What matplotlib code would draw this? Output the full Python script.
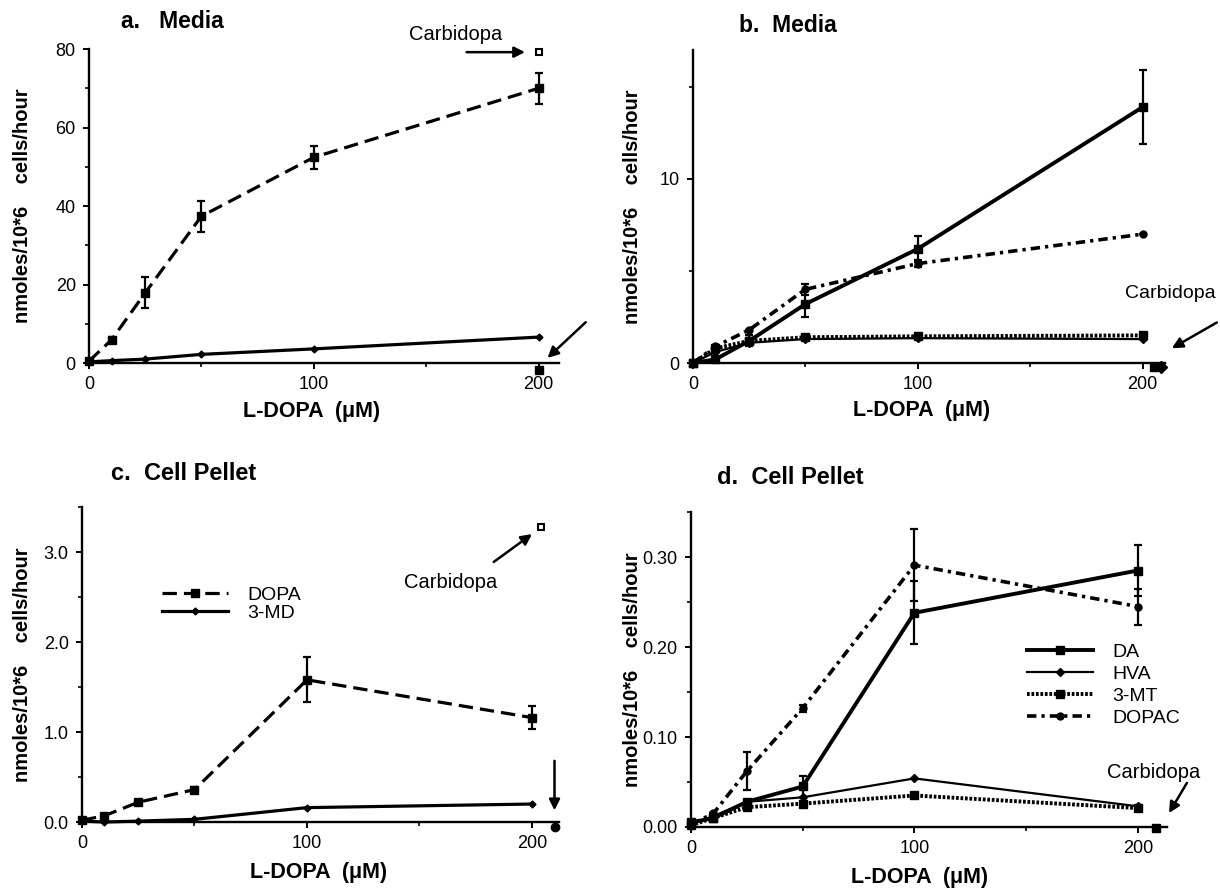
import matplotlib
matplotlib.use('Agg')
import matplotlib.pyplot as plt
from matplotlib.lines import Line2D

plt.rcParams['font.family'] = ['Liberation Sans', 'DejaVu Sans']

# ---------------- data ----------------
ldopa = [0, 10, 25, 50, 100, 200]

# panel a (media)
a_dopa = [0.5, 5.9, 17.9, 37.4, 52.4, 70.0]
a_dopa_err = [0, 0.8, 4.0, 4.0, 3.0, 3.9]
a_3md = [0.3, 0.6, 1.0, 2.2, 3.6, 6.6]
a_carb_dopa = 79.2
a_carb_3md = -1.8

# panel b (media)
b_da = [0, 0.2, 1.2, 3.2, 6.2, 13.9]
b_da_err = [0, 0, 0.3, 0.7, 0.7, 2.0]
b_hva = [0, 0.6, 1.1, 1.3, 1.35, 1.3]
b_3mt = [0, 0.8, 1.2, 1.4, 1.45, 1.5]
b_dopac = [0, 0.9, 1.8, 4.0, 5.4, 7.0]
b_dopac_err = [0, 0, 0, 0.3, 0.2, 0]
b_carb = -0.2

# panel c (cell pellet)
c_dopa = [0.02, 0.07, 0.22, 0.36, 1.58, 1.16]
c_dopa_err = [0, 0, 0.03, 0.03, 0.25, 0.13]
c_3md = [0.01, 0.0, 0.01, 0.03, 0.16, 0.20]
c_carb_dopa = 3.28
c_carb_3md = -0.055

# panel d (cell pellet)
d_da = [0.005, 0.01, 0.028, 0.045, 0.238, 0.285]
d_da_err = [0, 0, 0, 0.012, 0.035, 0.028]
d_hva = [0.003, 0.012, 0.028, 0.033, 0.054, 0.023]
d_3mt = [0.002, 0.010, 0.022, 0.026, 0.035, 0.021]
d_dopac = [0.003, 0.015, 0.062, 0.132, 0.291, 0.245]
d_dopac_err = [0, 0, 0.021, 0.004, 0.04, 0.02]
d_carb = -0.001

x_major = [0, 100, 200]
x_minor = [50, 150]

# ---------------- styles ----------------
S_DOPA = dict(ls=(0, (4.5, 2.2)), lw=2.3, marker='s', ms=5.5)
S_3MD = dict(ls='-', lw=2.3, marker='D', ms=3.5)
S_DA = dict(ls='-', lw=2.8, marker='s', ms=6)
S_HVA = dict(ls='-', lw=1.6, marker='D', ms=4)
S_3MT = dict(ls=(0, (0.7, 0.45)), lw=2.8, marker='s', ms=6)
S_DOPAC = dict(ls=(0, (2.6, 1.4, 0.9, 1.4)), lw=2.6, marker='o', ms=5)

ARROW = dict(arrowstyle='-|>', lw=1.8, color='black', mutation_scale=16,
             shrinkA=0, shrinkB=0)

fig = plt.figure(figsize=(12.2, 8.88), dpi=100)


def make_axes(rect, xlim, ylim, ymaj, ymin, ylabels):
    ax = fig.add_axes(rect)
    ax.set_xlim(*xlim)
    ax.set_ylim(*ylim)
    for s in ['top', 'right']:
        ax.spines[s].set_visible(False)
    for s in ['left', 'bottom']:
        ax.spines[s].set_linewidth(1.7)
    ax.set_xticks(x_major)
    ax.set_xticklabels([str(v) for v in x_major])
    ax.set_xticks(x_minor, minor=True)
    ax.set_yticks(ymaj)
    ax.set_yticklabels(ylabels)
    ax.set_yticks(ymin, minor=True)
    ax.tick_params(which='major', length=4.5, width=1.4, direction='out',
                   labelsize=13, pad=5)
    ax.tick_params(which='minor', length=3, width=1.2, direction='out')
    ax.set_xlabel('L-DOPA  (\u03bcM)', fontsize=15.5, fontweight='bold')
    ax.set_ylabel('nmoles/10*6    cells/hour', fontsize=14.5, fontweight='bold')
    ax.xaxis.label.set_va('center')
    ax.yaxis.label.set_va('center')
    return ax


def series(ax, y, style, err=None):
    cont = ax.errorbar(ldopa, y, yerr=err, color='black', capsize=3,
                       elinewidth=1.6, capthick=1.6, zorder=3, **style)
    for art in cont.get_children():
        art.set_clip_on(False)
    return cont


def arrow(ax, tail, head):
    ax.annotate('', xy=head, xytext=tail, annotation_clip=False, arrowprops=ARROW)


# ---------------- panel a ----------------
axa = make_axes([0.073, 0.5912, 0.385, 0.3536], (0, 209), (0, 80),
                [0, 20, 40, 60, 80], [10, 30, 50, 70],
                ['0', '20', '40', '60', '80'])
series(axa, a_dopa, S_DOPA, a_dopa_err)
series(axa, a_3md, S_3MD)
axa.plot([200], [a_carb_dopa], marker='s', ms=5, mfc='white', mec='black',
         mew=1.5, ls='none', clip_on=False)
axa.plot([200], [a_carb_3md], marker='s', ms=6, color='black', ls='none',
         clip_on=False)
axa.text(163, 83.6, 'Carbidopa', fontsize=14.5, ha='center', va='center')
arrow(axa, (168, 79.2), (194, 79.2))
arrow(axa, (221, 10.4), (204, 1.3))
axa.xaxis.set_label_coords(0.474, -0.153)
axa.yaxis.set_label_coords(-0.142, 0.5)

# ---------------- panel b ----------------
axb = make_axes([0.568, 0.5912, 0.387, 0.3525], (0, 210), (0, 17),
                [0, 10], [5, 15], ['0', '10'])
series(axb, b_hva, S_HVA)
series(axb, b_3mt, S_3MT)
series(axb, b_dopac, S_DOPAC, b_dopac_err)
series(axb, b_da, S_DA, b_da_err)
axb.plot([205], [b_carb], marker='s', ms=6, color='black', ls='none', clip_on=False)
axb.plot([208], [b_carb], marker='D', ms=6, color='black', ls='none', clip_on=False)
axb.text(212.5, 3.8, 'Carbidopa', fontsize=14, ha='center', va='center', clip_on=False)
arrow(axb, (233, 2.2), (213, 0.8))
axb.xaxis.set_label_coords(0.485, -0.153)
axb.yaxis.set_label_coords(-0.127, 0.5)

# ---------------- panel c ----------------
axc = make_axes([0.0672, 0.0743, 0.391, 0.3547], (0, 212), (0, 3.5),
                [0, 1, 2, 3], [0.5, 1.5, 2.5, 3.5],
                ['0.0', '1.0', '2.0', '3.0'])
series(axc, c_dopa, S_DOPA, c_dopa_err)
series(axc, c_3md, S_3MD)
axc.plot([204], [c_carb_dopa], marker='s', ms=5, mfc='white', mec='black',
         mew=1.5, ls='none', clip_on=False)
axc.plot([210], [c_carb_3md], marker='o', ms=6, color='black', ls='none',
         clip_on=False)
axc.text(164, 2.66, 'Carbidopa', fontsize=14.5, ha='center', va='center')
arrow(axc, (183, 2.89), (200, 3.2))
arrow(axc, (210, 0.68), (210, 0.13))
hc = [Line2D([], [], color='black', **S_DOPA), Line2D([], [], color='black', **S_3MD)]
axc.legend(hc, ['DOPA', '3-MD'], loc='upper left', bbox_to_anchor=(0.168, 0.748),
           frameon=False, fontsize=14, handlelength=3.4, handletextpad=1.0,
           labelspacing=0.02, borderpad=0, borderaxespad=0, numpoints=1)
axc.xaxis.set_label_coords(0.495, -0.159)
axc.yaxis.set_label_coords(-0.124, 0.5)

# ---------------- panel d ----------------
axd = make_axes([0.5664, 0.0687, 0.390, 0.3547], (0, 213), (0, 0.35),
                [0, 0.1, 0.2, 0.3], [0.05, 0.15, 0.25, 0.35],
                ['0.00', '0.10', '0.20', '0.30'])
series(axd, d_3mt, S_3MT)
series(axd, d_hva, S_HVA)
series(axd, d_dopac, S_DOPAC, d_dopac_err)
series(axd, d_da, S_DA, d_da_err)
axd.plot([208], [d_carb], marker='s', ms=6, color='black', ls='none', clip_on=False)
axd.text(207, 0.060, 'Carbidopa', fontsize=14.5, ha='center', va='center')
arrow(axd, (222, 0.049), (214, 0.0155))
hd = [Line2D([], [], color='black', **S_DA), Line2D([], [], color='black', **S_HVA),
      Line2D([], [], color='black', **S_3MT), Line2D([], [], color='black', **S_DOPAC)]
axd.legend(hd, ['DA', 'HVA', '3-MT', 'DOPAC'], loc='upper left',
           bbox_to_anchor=(0.706, 0.582), frameon=False, fontsize=14,
           handlelength=3.4, handletextpad=1.0, labelspacing=0.22,
           borderpad=0, borderaxespad=0, numpoints=1)
axd.xaxis.set_label_coords(0.48, -0.159)
axd.yaxis.set_label_coords(-0.122, 0.5)

# ---------------- titles ----------------
fig.text(121 / 1220, 1 - 22 / 888, 'a.   Media', fontsize=16.5, fontweight='bold', va='center')
fig.text(739 / 1220, 1 - 25 / 888, 'b.  Media', fontsize=16.5, fontweight='bold', va='center')
fig.text(111 / 1220, 1 - 473 / 888, 'c.  Cell Pellet', fontsize=17, fontweight='bold', va='center')
fig.text(717 / 1220, 1 - 477 / 888, 'd.  Cell Pellet', fontsize=17, fontweight='bold', va='center')

fig.savefig('out.png', dpi=100)
